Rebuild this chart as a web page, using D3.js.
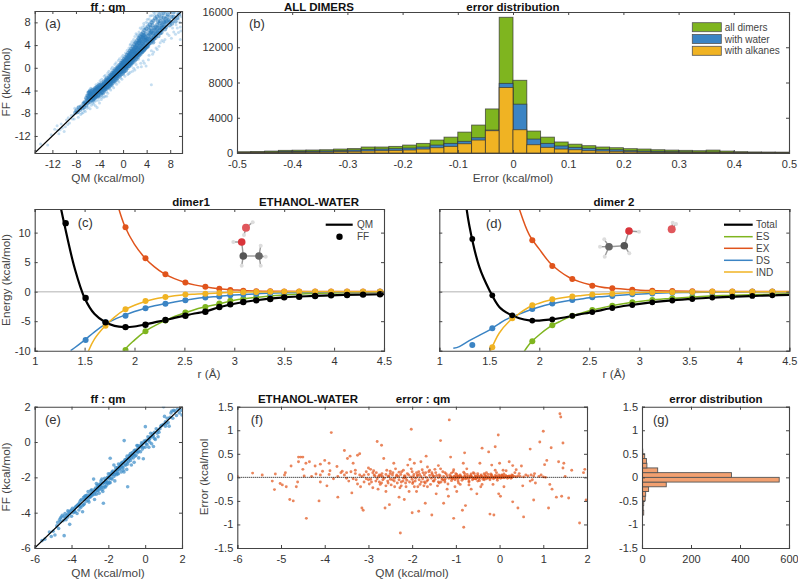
<!DOCTYPE html>
<html><head><meta charset="utf-8">
<script src="https://cdn.jsdelivr.net/npm/d3@7/dist/d3.min.js"></script>
<style>
html,body{margin:0;padding:0;background:#fff}
text{font-family:"Liberation Sans",Arial,sans-serif;fill:#333}
.tt{font-weight:700;font-size:11.5px;fill:#111}
.lab{font-size:11.8px;fill:#444}
.leg{font-size:10px;fill:#444}
.tick text{font-size:11px;fill:#333}
.pl{font-size:13px;fill:#333}
</style></head><body><svg id="c" width="798" height="580"></svg>
<script>
// ---------- panel (a) values ----------
const aCore=[[-8.1,-7.9],[-7.9,-7.5],[-7.7,-7.8],[-7.5,-7],[-7.3,-7.4],[-7.1,-6.8],[-6.9,-7.1],[-6.7,-6.3],[-6.6,-6.9],[-6.4,-6.1],[-6.3,-6.6],[-6.1,-5.6],[-6,-6.2],[-5.9,-5],[-5.8,-5.5],[-5.7,-6],[-5.6,-4.7],[-5.5,-5.2],[-5.4,-5.7],[-5.3,-4.6],[-5.2,-5],[-5.1,-5.4],[-5,-4.3],[-4.9,-4.8],[-4.8,-5.3],[-4.7,-4.1],[-4.6,-4.6],[-4.5,-5],[-4.4,-3.8],[-4.3,-4.3],[-4.2,-4.8],[-4.1,-3.6],[-4,-4.1],[-3.9,-4.5],[-3.8,-3.3],[-3.7,-3.8],[-3.6,-4.3],[-3.5,-3],[-3.4,-3.5],[-3.3,-4],[-3.2,-2.8],[-3.1,-3.2],[-3,-3.7],[-2.95,-2.4],[-2.85,-2.9],[-2.75,-3.4],[-2.65,-2.2],[-2.55,-2.6],[-2.45,-3.1],[-2.4,-1.9],[-2.3,-2.4],[-2.2,-2.8],[-2.15,-1.6],[-2.05,-2.1],[-1.95,-2.6],[-1.9,-1.3],[-1.8,-1.8],[-1.7,-2.3],[-1.65,-1],[-1.55,-1.5],[-1.45,-2],[-1.4,-.8],[-1.3,-1.2],[-1.2,-1.7],[-1.15,-.5],[-1.05,-.9],[-.95,-1.4],[-.9,-.2],[-.8,-.6],[-.7,-1.1],[-.65,.1],[-.55,-.3],[-.45,-.8],[-.4,.4],[-.3,0],[-.2,-.5],[-.15,.7],[-.05,.3],[.05,-.2],[.1,1],[.2,.6],[.3,.1],[.35,1.3],[.45,.9],[.55,.4],[.6,1.7],[.7,1.2],[.8,.7],[.85,2],[.95,1.5],[1.05,1],[1.1,2.3],[1.2,1.8],[1.3,1.3],[1.35,2.7],[1.45,2.1],[1.55,1.6],[1.6,3],[1.7,2.4],[1.8,1.9],[1.85,3.3],[1.95,2.7],[2.05,2.2],[2.1,3.7],[2.2,3.1],[2.3,2.5],[2.35,4],[2.45,3.4],[2.55,2.8],[2.6,4.4],[2.7,3.7],[2.8,3.1],[2.85,4.7],[2.95,4],[3.05,3.4],[3.1,5],[3.2,4.3],[3.3,3.7],[3.35,5.4],[3.45,4.6],[3.55,4],[3.6,5.7],[3.7,4.9],[3.8,4.3],[3.9,6],[4,5.2],[4.1,4.6],[4.2,3.8],[4.3,5.6],[4.4,6.6],[4.5,5],[4.6,6.1],[4.7,7],[4.8,5.4],[4.9,6.5],[5,7.5],[5.1,4.5],[5.2,6],[5.35,7],[5.5,5.3],[5.6,6.5],[5.8,7.6],[6,5.6],[6.2,7],[6.3,8.2],[6.5,6.2],[6.7,7.6],[6.9,8.8],[7.1,6.8],[7.4,8.2],[7.6,9.4],[7.9,7.5],[8.2,9],[8.5,9.8],[-3.85,-4],[-3.45,-3.7],[-3.05,-3.3],[-2.6,-2.9],[-2.2,-2.4],[-1.8,-2],[-1.4,-1.5],[-1,-1.1],[-.6,-.7],[-.2,-.2],[.2,.2],[.6,.8],[1,1.4],[1.4,1.9],[1.8,2.5],[2.2,2.9],[2.6,3.4],[3,3.9],[3.4,4.3],[3.8,4.8],[-2.1,-2.3],[-1.6,-1.7],[-1.1,-1.3],[-.7,-.4],[-.3,-.7],[.1,.5],[.5,.1],[.9,.9],[1.3,.9],[1.7,1.4],[2.1,2.6],[2.5,2.4],[2.9,3],[3.3,3.3],[3.7,3.6],[-4.5,-4.5],[-4.1,-4.2],[-3.6,-3.4],[-3.2,-3.5],[-2.7,-2.7],[-.1,.9],[.3,1.2],[.7,1.5],[1.1,2],[1.5,2.9],[1.9,3.1],[2.3,3.6],[2.7,4.4],[3.1,4.7],[3.5,5.2],
[-6.55,-6.1],[-6.25,-5.35],[-6.05,-4.9],[-5.85,-4.4],[-5.95,-5.75],[-5.75,-5.15],[-5.55,-4.15],[-5.45,-4.9],[-5.25,-4.05],[-5.15,-5.7],[-5.05,-3.85],[-4.95,-5.45],[-4.85,-4.2],[-4.75,-3.65],[-4.65,-5.1],[-4.55,-3.5],[-4.35,-3.35],[-4.25,-5.05],[-4.15,-3.15],[-3.95,-3.05],[-3.75,-4.7],[-3.65,-2.75],[-3.55,-3.1],[-3.35,-4.35],[-3.25,-2.45],[-3.15,-3.85],[-2.9,-2.05],[-2.8,-3.65],[-2.7,-1.85],[-2.5,-3.45],[-2.35,-1.5],[-2.25,-3.15],[-2.1,-1.2],[-2,-2.95],[-1.85,-.95],[-1.75,-2.65],[-1.6,-.6],[-1.5,-2.35],[-1.35,-.3],[-1.25,-2.1],[-1.1,-.05],[-1,-1.85],[-.85,.25],[-.75,-1.55],[-.6,.5],[-.5,-1.3],[-.35,.85],[-.25,-1.1],[-.1,1.2],[0,-.85],[.15,1.5],[.25,-.55],[.4,1.85],[.5,-.3],[.65,2.25],[.75,0],[.9,2.6],[1,.35],[1.15,2.95],[1.25,.6],[1.4,3.3],[1.5,.85],[1.65,3.7],[1.75,1.05],[1.9,4.1],[2,1.3],[2.15,4.4],[2.25,1.6],[2.4,4.8],[2.5,1.9],[2.65,5.2],[2.75,2.2],[2.9,5.5],[3,2.5],[3.15,5.9],[3.25,2.8],[3.4,6.2],[3.5,3.1],[3.65,6.6],[3.75,3.4],[3.95,6.9],[4.05,3.7],[4.25,7.3],[4.35,4.2],[4.55,7.6],[4.65,4.4],[4.85,8],[4.95,4.8],[5.15,8.3],[5.25,5.1],[5.45,8.7],[5.55,5.7],[5.75,9],[5.85,6.2],[5.95,8.2],[6.15,9.4],[6.25,6.6],[6.45,8.8],[6.6,7],[6.85,9.7],[7,8],[7.3,7.2],[7.5,9],[7.75,8.4],[8,8.1],[8.3,7.8],[8.6,9],[8.9,8.2],[9.2,8.8],[9.5,9.4],
[.15,-.6],[.45,.05],[.6,.35],[.95,.3],[1.2,.75],[1.45,1.1],[1.6,1.75],[1.9,1.65],[2.15,2],[2.4,2.15],[2.6,2.6],[2.85,2.55],[3.1,3],[3.3,2.9],[3.6,3.2],[3.85,3.55],[4.1,3.95],[4.4,4.4],[4.7,4.8],[5,5.2],[5.3,5.5],[5.6,5.9],[5.9,6.4],[6.25,6.1],[6.6,6.7],[6.95,7.3],[7.3,7.9],[2.05,3.55],[2.4,4.25],[2.75,4.85],[3.05,5.35],[3.4,5.75],[3.75,5.4],[3.95,4.95],[4.2,5.1],[4.5,5.85],[4.75,6.3],[5.05,6.1],[5.3,6.7],[5.6,7.2],[5.9,7.05],[6.2,7.8],[6.55,7.4],[6.85,8.1],[7.2,8.6],[-1.5,-.95],[-1.25,-.65],[-1,-.35],[-.75,-.05],[-.5,.2],[-.25,.45],[0,.7],[.25,.95],[.5,1.3],[.75,1.75],[1,2.2],[1.25,2.5],[1.5,2.4],[1.75,2.95],[-3.4,-3.15],[-3.15,-2.7],[-2.9,-2.55],[-2.65,-2.4],[-2.4,-2.15],[-2.15,-1.9],[-1.9,-1.55],[-1.65,-1.3],[-4.8,-4],[-4.55,-3.85],[-4.3,-3.7],[-4.05,-3.45],[-3.8,-3.55],[-5.7,-4.4],[-5.55,-4.55],[-5.35,-4.35],[-5.15,-4.7]];
const aFaint=[[-14,-13.4],[-12.8,-13.6],[-11.6,-10.8],[-11.2,-10.2],[-11.1,-11],[-10.9,-11.6],[-10.5,-9.9],[-10.3,-10.6],[-10,-11.2],[-9.6,-9.2],[-9.4,-10],[-9.1,-9.7],[-8.8,-8.4],[-8.6,-9],[-8.2,-7.1],[-8.4,-8.3],[-7.7,-7],[-7,-8],[-6.6,-7.5],[-6.1,-7.1],[-5.6,-7.2],[-5,-6.4],[-4.7,-6.7],[-4.4,-7],[-4,-6.2],[-3.7,-5.6],[-3.3,-5.2],[-2.8,-5],[-5.7,-3.9],[-5.4,-3.7],[-4.6,-3],[-3.9,-2.3],[-3.2,-1.5],[-2.6,-.9],[-2,-.2],[-1.4,.6],[-.8,1.3],[-.2,1.9],[.4,2.6],[1,3.5],[1.5,4.6],[2,5.5],[2.7,6.3],[3.3,7.2],[3.9,8],[4.4,8.6],[4.9,9.2],[5.4,9.6],[5.8,9.9],[6.5,9.9],[7.4,9.9],[8.6,8.6],[9.2,9.5],[9.6,8],[9.8,6.5],[9.2,7],[9.7,5],[8.9,5.9],[8.2,5.2],[7.5,6],[7.1,5],[6.6,4.8],[6.1,3.8],[5.6,3.5],[5.2,2.8],[4.8,3],[4.4,2.2],[4.8,-3],[3.9,.3],[3.4,1.2],[3,.8],[2.6,1.5],[2.2,.6],[1.8,-.1],[1.4,.3],[1,-1],[.6,-.6],[.1,-1.2],[-.4,-1.8],[-.9,-2.2],[-1.3,-2.6],[-1.8,-3.2],[-2.3,-3.6],[-2.8,-4.2],[-3.4,-4.6],[-4,-5.2],[-4.6,-5.8],[-5.2,-6.2],[-6.4,-7.7],[-7.2,-8.2],[-5.9,-4.2],[-5.7,-4],[-5.5,-3.6],[3.6,7.4],[2.4,5.8],[1.2,4],[5.7,8.6],[6.8,9.3],[7.7,8.4],[8.4,7],[8.9,8.8],
[-4.2,-2.7],[-3.6,-2],[-3,-1.3],[-2.4,-.6],[-1.8,.1],[-1.2,.9],[-.6,1.6],[0,2.2],[.7,3.1],[1.3,4.2],[1.8,5],[2.2,6],[2.9,7],[3.5,7.8],[4.1,8.5],[4.6,9.1],[5.2,9.8],[6.2,9.9],[7,9.9],[8,9.9],[8.8,9.8],[9.5,9.8],[9.9,9],[9.4,6.2],[8.6,6.3],[7.8,5.7],[6.9,4.6],[6.3,4.4],[5.8,3.2],[5,2.4],[4.3,1.4],[3.6,.8],[3.1,.2],[2.5,.1],[2,-.4],[1.6,-.6],[1.2,-.8],[.8,-1.2],[.3,-1.5],[-.2,-2],[-.7,-2.5],[-1.1,-2.9],[-1.6,-3.5],[-2.1,-3.9],[-2.6,-4.5],[-3.1,-5],[-3.6,-5.2],[-4.2,-5.7],[-4.9,-6],[-5.4,-6.6],[-5.9,-6.9],[-6.8,-7.9],[-7.6,-8.7],[-8.3,-9],[-9.3,-8.8],[-10.7,-10.9],[-9.8,-10.4],[-12.2,-11.8],[6.1,8.9],[6.6,9.4],[7.2,9.6],[7.9,9.7],[8.5,8.1],[9,7.6],[9.4,8.6],[9.7,7.2],[5.3,9.2],[4.2,7.9],[4.7,8.3],[3.2,6.8],[2.5,5.5],[1.9,4.6],[2.8,5.9],[3.7,6.9]];
// ---------- panel (b) histograms, bins of 0.025 from -0.5 to 0.5 ----------
const bAll=[140,170,220,300,320,340,370,450,500,680,680,750,900,1090,1470,1800,2370,3170,5000,15400,8250,2490,1800,1250,1000,830,680,600,490,450,370,330,300,260,330,220,150,120,110,100];
const bWater=[80,90,120,180,180,200,230,270,340,410,450,490,560,680,900,1090,1320,1730,2600,7900,5540,1580,1090,800,640,530,410,370,260,220,190,150,130,110,120,80,60,50,40,30];
const bAlkane=[50,60,70,90,100,110,120,160,190,230,260,300,340,450,600,750,1050,1470,2530,7430,2640,940,640,450,370,260,220,190,140,120,90,80,70,60,60,40,30,20,20,20];
const bNames=["all dimers","with water","with alkanes"];
// ---------- panel (c) ----------
const cDotR=[1.31,1.51,1.71,1.91,2.11,2.31,2.51,2.71,2.85,2.96,3.09,3.22,3.36,3.5,3.65,3.81,3.97,4.13,4.29,4.46];
const cDotTotal=[11.6,-1.07,-5.2,-6,-5.6,-4.8,-4.07,-3.4,-2.6,-2.15,-1.75,-1.47,-1.24,-.96,-.85,-.73,-.62,-.56,-.5,-.45];
const cDotES=[null,null,null,-9.9,-6.7,-4.9,-3.55,-2.6,-2,-1.55,-1.2,-.95,-.75,-.55,-.4,-.3,-.22,-.17,-.13,-.1];
const cDotEX=[null,null,null,10.9,5.65,2.94,1.53,.85,.5,.3,.17,.06,.05,.04,.03,.03,.02,.02,.01,.01];
const cDotDS=[null,-8.2,-5.2,-4.07,-2.82,-2.03,-1.47,-1,-.8,-.6,-.5,-.35,-.25,-.2,-.13,-.1,-.08,-.06,-.04,-.03];
const cDotIND=[null,null,-5.76,-3,-1.6,-.9,-.5,-.34,-.22,-.12,-.08,-.05,-.03,-.02,-.02,-.01,-.01,-.01,0,0];
const cR=[1.2,1.25,1.3,1.36,1.4,1.5,1.54,1.6,1.7,1.8,1.9,2,2.1,2.2,2.3,2.4,2.5,2.6,2.7,2.85,3,3.2,3.5,3.8,4.1,4.5];
const cTotal=[20,15.2,11.2,null,4,-1.07,null,-3.8,-5.1,-5.8,-6,-5.9,-5.6,-5.2,-4.85,-4.45,-4.07,-3.7,-3.4,-2.65,-2.05,-1.5,-.96,-.73,-.56,-.44];
const cES=[null,null,null,null,null,null,null,null,null,-13,-9.9,-8.2,-6.8,-5.8,-4.95,-4.2,-3.6,-3.05,-2.62,-2.05,-1.45,-.98,-.55,-.3,-.18,-.1];
const cEX=[null,null,null,null,null,null,null,null,23,16.5,11.2,8,5.8,4.2,3,2.2,1.6,1.15,.85,.5,.3,.1,.05,.03,.02,.01];
const cDS=[null,null,null,-10,-9.5,-8.2,null,-6.8,-5.6,-4.7,-4,-3.35,-2.85,-2.4,-2.05,-1.75,-1.47,-1.2,-1,-.8,-.58,-.38,-.2,-.1,-.06,-.03];
const cIND=[null,null,null,null,null,-12,-10,-8,-5.9,-4.3,-3.1,-2.3,-1.7,-1.25,-.95,-.7,-.52,-.42,-.34,-.22,-.12,-.07,-.03,-.02,-.01,0];
// ---------- panel (d) ----------
const dDotR=[1.33,1.53,1.73,1.93,2.13,2.33,2.53,2.73,2.93,3.13,3.33,3.53,3.73,3.93,4.13,4.33];
const dDotTotal=[8.93,-.62,-4,-4.9,-4.7,-4.1,-3.45,-2.77,-2.26,-1.8,-1.5,-1.24,-1,-.85,-.73,-.62];
const dDotES=[null,null,null,-8.4,-5.7,-4.1,-3.1,-2.37,-1.8,-1.4,-1.13,-.9,-.73,-.62,-.5,-.43];
const dDotEX=[null,null,null,8.7,4.35,2.15,1,.56,.34,.17,.1,.06,.04,.03,.02,.01];
const dDotDS=[-9.04,-6.2,-4.2,-2.95,-2,-1.4,-.95,-.73,-.45,-.3,-.2,-.13,-.08,-.05,-.03,-.02];
const dDotIND=[null,-9.4,-4.5,-2.3,-1.3,-.8,-.5,-.34,-.2,-.12,-.08,-.05,-.03,-.02,-.01,-.01];
const dR=[1.14,1.2,1.25,1.3,1.4,1.5,1.6,1.7,1.8,1.9,2,2.1,2.2,2.3,2.4,2.5,2.6,2.7,2.9,3.1,3.3,3.5,3.7,3.9,4.1,4.33,4.5];
const dTotal=[null,null,17,11.2,4.2,.3,-2.6,-3.8,-4.5,-4.85,-4.9,-4.75,-4.5,-4.2,-3.85,-3.55,-3.2,-2.85,-2.3,-1.85,-1.52,-1.26,-1.03,-.87,-.75,-.62,-.55];
const dES=[null,null,null,null,null,null,null,null,-11.5,-8.9,-7.3,-6,-5.1,-4.3,-3.75,-3.25,-2.85,-2.45,-1.87,-1.45,-1.17,-.93,-.75,-.63,-.52,-.43,-.38];
const dEX=[null,null,null,null,null,null,null,20,14,9.6,7.2,5,3.5,2.4,1.7,1.2,.85,.6,.36,.18,.1,.06,.04,.03,.02,.01,.01];
const dDS=[-9.6,-9.3,null,-8.3,-7.4,-6.5,-5.4,-4.45,-3.8,-3.15,-2.6,-2.15,-1.8,-1.5,-1.28,-1.05,-.88,-.75,-.48,-.32,-.2,-.13,-.08,-.05,-.03,-.02,-.01];
const dIND=[null,null,null,null,null,-10.5,-7,-5,-3.7,-2.6,-1.95,-1.45,-1.1,-.85,-.68,-.52,-.43,-.35,-.2,-.12,-.08,-.05,-.03,-.02,-.01,-.01,0];
const compNames=["Total","ES","EX","DS","IND"];
// ---------- panel (e) ----------
const ePts=[[-6,-6],[-5.6,-5.58],[-5.45,-5.5],[-5.2,-5.1],[-5.1,-5.35],[-5,-5.05],[-4.9,-5.26],[-4.8,-4.75],[-4.75,-4.55],[-4.7,-4.9],[-4.65,-4.4],[-4.6,-4.3],[-4.55,-4.25],[-4.5,-4.15],[-4.45,-4.45],[-4.4,-5.3],[-4.4,-4.2],[-4.35,-4.05],[-4.3,-4.4],[-4.25,-4.15],[-4.2,-4.25],[-4.15,-3.95],[-4.1,-4.66],[-4.1,-4.05],[-4.05,-3.9],[-4,-4.2],[-3.95,-3.75],[-3.9,-4],[-3.85,-3.8],[-3.8,-3.95],[-3.75,-3.65],[-3.7,-4.05],[-3.65,-3.55],[-3.6,-3.85],[-3.55,-3.4],[-3.5,-3.7],[-3.45,-3.25],[-3.4,-3.6],[-3.4,-3.95],[-3.35,-3.15],[-3.3,-3.5],[-3.25,-3.05],[-3.2,-3.35],[-3.15,-3],[-3.1,-3.3],[-3.1,-2.8],[-3.05,-3.4],[-3,-2.95],[-2.95,-3.1],[-2.9,-2.7],[-2.85,-3],[-2.8,-2.1],[-2.8,-2.85],[-2.75,-3.25],[-2.7,-2.6],[-2.65,-2.95],[-2.6,-2.45],[-2.55,-2.75],[-2.5,-2.9],[-2.5,-2.4],[-2.45,-2.65],[-2.4,-2.2],[-2.35,-2.55],[-2.3,-2.8],[-2.27,-3.47],[-2.25,-2.3],[-2.2,-2.5],[-2.15,-2.15],[-2.1,-2.45],[-2.05,-2],[-2,-2.35],[-2,-1.8],[-1.95,-2.1],[-1.9,-.92],[-1.9,-2.3],[-1.85,-1.85],[-1.8,-2.1],[-1.75,-1.65],[-1.7,-1.95],[-1.7,-1.3],[-1.65,-2.2],[-1.6,-1.6],[-1.55,-1.85],[-1.5,-1.45],[-1.45,-1.25],[-1.45,-1.8],[-1.4,-1.55],[-1.35,-1.3],[-1.3,-1.7],[-1.25,-1.15],[-1.2,-1.45],[-1.15,-1.7],[-1.14,.08],[-1.1,-1],[-1.05,-1.3],[-1,-1.55],[-.98,-.8],[-.95,-2.53],[-.9,-1.1],[-.85,-.75],[-.8,-1.05],[-.75,-1.3],[-.7,-.6],[-.65,-.9],[-.6,-1.15],[-.55,-.45],[-.5,-.75],[-.45,-.2],[-.4,-.6],[-.35,-.9],[-.3,-.3],[-.25,-.55],[-.2,-.05],[-.15,-.4],[-.1,-.95],[-.05,.05],[0,-.3],[.01,.87],[.05,.1],[.1,-.15],[.15,.3],[.2,-.3],[.25,.2],[.3,.5],[.35,-.1],[.4,.45],[.45,-.25],[.5,.55],[.55,.15],[.6,.75],[.7,.3],[.8,.75],[.9,.95],[1,2],[1.05,1.45],[1.1,.9],[1.15,1.05],[1.2,1.35],[1.25,1.1],[1.3,.9],[1.35,1.4],[1.4,1.65],[1.45,1.75],[1.5,1.35],[1.55,1.8],[1.6,1.75],[1.7,1.5],[1.75,1.85],[1.85,1.65],[1.95,1.8],[2,1.53],[-3.6,-3.5],[-3.2,-3.15],[-2.9,-3],[-2.6,-2.6],[-2.4,-2.5],[-2.15,-2.3],[-2,-2],[-1.8,-1.85],[-1.6,-1.75],[-1.4,-1.4],[-1.2,-1.2],[-1,-1.15],[-.8,-.8],[-.6,-.65],[-.4,-.35],[-.2,-.25],[0,0],[.2,.15],[-4.2,-4.1],[-3.8,-3.7],[-3,-3.1],[-2.7,-2.8],[-2.3,-2.35],[-1.75,-1.75],[-1.3,-1.35],[-1.5,-1.65],[-.9,-.95],[-.7,-.75],[-3.3,-3.25],[-2.45,-2.45],[-2.2,-2.05],[-1.95,-1.95],[-.5,-.5],[.4,.3],[.7,.65],[-2.65,-2.35],[-2.35,-2.1],
[-4.6,-4.5],[-4.35,-4.3],[-4.2,-3.9],[-4,-3.85],[-3.85,-3.95],[-3.7,-3.6],[-3.55,-3.65],[-3.5,-3.3],[-3.35,-3.55],[-3.3,-3.1],[-3.2,-3.05],[-3.05,-3.15],[-2.95,-2.75],[-2.9,-2.9],[-2.75,-2.7],[-2.75,-2.95],[-2.6,-2.75],[-2.55,-2.5],[-2.5,-2.6],[-2.4,-2.35],[-2.35,-2.7],[-2.25,-2.6],[-2.2,-2.25],[-2.15,-2.55],[-2.1,-2.2],[-2.05,-2.3],[-1.95,-2.3],[-1.9,-1.8],[-1.85,-2.05],[-1.8,-1.7],[-1.7,-1.75],[-1.65,-1.85],[-1.6,-1.45],[-1.55,-1.6],[-1.5,-1.8],[-1.45,-1.5],[-1.35,-1.5],[-1.3,-1.2],[-1.25,-1.4],[-1.2,-1.6],[-1.15,-1.1],[-1.1,-1.3],[-1.05,-1],[-1,-.95],[-.95,-1.25],[-.85,-.95],[-.8,-.65],[-.75,-.9],[-.65,-.7],[-.6,-.5],[-.55,-.8],[-.45,-.55],[-.4,-.2],[-.35,-.5],[-.25,-.2],[-.15,-.1],[-.1,-.3],[.05,-.1],[.15,.1],[.25,0],[.3,.3],[.45,.35],[.5,.2],[.65,.5],[.75,.55],[.85,.9],[1,1],[1.1,1.15]];
// ---------- panel (f) ----------
const fPts=[[-6,.02],[-5.65,.09],[-5.43,.05],[-5.2,-.08],[-5.13,.07],[-5.15,-.26],[-5.02,-.13],[-4.97,-.16],[-4.9,.1],[-4.92,.05],[-4.88,-.2],[-4.8,-.47],[-4.72,-.5],[-4.77,.24],[-4.65,-.2],[-4.62,-.1],[-4.6,.33],[-4.55,.43],[-4.6,.43],[-4.5,.43],[-4.42,-.87],[-4.35,.33],[-4.43,.3],[-4.5,.17],[-4.47,.03],[-4.3,.02],[-4.2,.07],[-4.22,.24],[-4.13,-.5],[-4.1,-.1],[-4.1,.28],[-4.05,.13],[-4,.36],[-3.95,-.18],[-3.9,.3],[-3.88,.14],[-3.85,.95],[-3.8,-.03],[-3.72,.23],[-3.7,-.42],[-3.63,.1],[-3.55,.57],[-3.5,.1],[-3.48,.4],[-3.45,-.08],[-3.42,.45],[-3.38,-.33],[-3.35,.3],[-3.3,.15],[-3.28,-.05],[-3.25,.47],[-3.2,.5],[-3.18,-.2],[-3.15,-.65],[-3.12,-.7],[-3.1,.05],[-3.05,.12],[-3,.2],[-2.98,-.14],[-2.95,.17],[-2.9,-.22],[-2.87,.05],[-2.82,.1],[-2.8,.76],[-2.78,-.25],[-2.75,-.1],[-2.7,.68],[-2.68,.02],[-2.65,.4],[-2.62,-.65],[-2.6,-.3],[-2.55,-.12],[-2.52,-.58],[-2.5,.08],[-2.45,-.05],[-2.42,.3],[-2.4,-.2],[-2.35,.05],[-2.3,-.42],[-2.27,-1.18],[-2.25,-.1],[-2.2,.15],[-2.18,-.47],[-2.15,-.02],[-2.1,.26],[-2.07,-.3],[-2.05,.38],[-2.02,1.02],[-2,-.75],[-1.98,-.1],[-1.95,.3],[-1.9,-.3],[-1.88,.05],[-1.85,-.72],[-1.82,-.15],[-1.8,.33],[-1.75,.1],[-1.72,-.1],[-1.7,-.55],[-1.68,.45],[-1.65,-.2],[-1.6,.15],[-1.55,-.8],[-1.52,-.08],[-1.5,.02],[-1.48,.17],[-1.45,-.35],[-1.4,.25],[-1.38,-.12],[-1.35,.78],[-1.3,-.05],[-1.28,-.55],[-1.25,.1],[-1.2,-.25],[-1.17,-.4],[-1.15,1.22],[-1.12,.43],[-1.1,-.02],[-1.05,-.87],[-1.02,-.2],[-1,.08],[-.98,-.3],[-.95,.02],[-.9,-.15],[-.85,-.7],[-.83,.3],[-.82,-1.06],[-.8,.52],[-.78,-.6],[-.75,.18],[-.7,-.1],[-.65,-.25],[-.6,.1],[-.55,-.03],[-.52,-.35],[-.5,.08],[-.45,.3],[-.43,-.2],[-.4,.62],[-.35,-.05],[-.3,.1],[-.25,.54],[-.22,-.78],[-.18,.26],[-.15,-.15],[-.13,-.8],[-.1,.65],[-.07,.1],[-.03,.9],[-.02,-.35],[0,.3],[.02,-.4],[.05,.05],[.08,.15],[.1,-.2],[.15,.14],[.2,.02],[.22,.33],[.28,.05],[.3,.25],[.3,-.52],[.35,.1],[.38,.16],[.42,-.65],[.45,.08],[.5,.24],[.53,-.18],[.55,-.84],[.6,.05],[.7,.6],[.72,.05],[.75,-.05],[.78,-.48],[.8,.08],[.9,.02],[.92,.75],[.95,.05],[1,.98],[1.03,.27],[1.05,0],[1.08,.36],[1.12,-.65],[1.15,-.15],[1.18,.63],[1.2,-.25],[1.3,-.42],[1.35,.33],[1.38,1.35],[1.4,1.28],[1.42,-.4],[1.45,.73],[1.45,.2],[1.47,.3],[1.5,.02],[1.58,-.44],[1.65,.15],[1.83,-.97],[1.92,.1],[1.95,.17],[1.98,-.48],
[-2.85,.03],[-2.8,-.03],[-2.72,.04],[-2.67,-.05],[-2.6,.06],[-2.55,.02],[-2.5,-.04],[-2.45,.05],[-2.4,-.02],[-2.36,.03],[-2.3,-.05],[-2.26,.06],[-2.2,-.02],[-2.16,.03],[-2.12,-.06],[-2.08,.05],[-2.03,.01],[-2,-.04],[-1.96,.06],[-1.92,-.02],[-1.88,.03],[-1.84,-.05],[-1.8,.02],[-1.76,-.03],[-1.72,.05],[-1.68,0],[-1.64,-.05],[-1.6,.04],[-1.56,-.02],[-1.52,.03],[-1.48,-.04],[-1.44,.04],[-1.4,-.01],[-1.36,.03],[-1.32,-.03],[-1.28,.02],[-1.24,-.03],[-1.2,.03],[-1.16,-.02],[-1.12,.02],[-1.08,-.03],[-1.04,.02],[-1,-.02],[-.96,.03],[-.92,-.01],[-.88,.02],[-.84,-.02],[-.8,.02],[-.76,-.02],[-.72,.02],[-.68,-.01],[-.64,.02],[-.6,-.02],[-.56,.02],[-.52,-.01],[-.48,.02],[-.44,-.01],[-.4,.02],[-.36,-.01],[-.32,.02],[-.28,-.01],[-.24,.01],[-.2,-.01],[-.16,.01],[-.12,0],[-.08,.01],[-.04,-.01],[0,.01],[.04,0],[.08,.01],[.12,0],[.16,.01],[.2,0],[.24,.01],[.28,0],
[-2.9,.1],[-2.7,-.12],[-2.5,.13],[-2.3,.11],[-2.15,-.12],[-2,.12],[-1.85,.12],[-1.7,-.12],[-1.55,.1],[-1.4,-.1],[-1.25,-.1],[-1.1,.09],[-.95,-.08],[-.8,.08],[-.65,.07],[-.5,-.08],[-.35,.08],[-.2,.07],[-.05,-.06],[.1,.07],[-2.6,-.18],[-2.25,-.18],[-1.95,-.2],[-1.65,.22],[-1.35,.18],[-1.05,.16],[-.7,-.16],[-.4,-.15],[-.1,.15],[-3.2,.05],[-3,-.05],[-3.35,-.03],[-3.55,.05],[-3.7,.02],[-3.9,.06],[-4.1,.05],[-3.4,.12],[-3.1,-.1],[-2.95,-.04],[-2.75,.05],
[-3.6,.13],[-3.5,-.02],[-3.3,.08],[-3.25,-.14],[-3.15,.02],[-3.05,-.03],[-3,.06],[-2.93,-.1],[-2.88,.14],[-2.83,-.08],[-2.77,.02],[-2.73,-.15],[-2.69,.08],[-2.64,-.02],[-2.58,.15],[-2.56,-.08],[-2.53,.03],[-2.48,-.16],[-2.44,.1],[-2.41,-.08],[-2.38,.18],[-2.34,-.12],[-2.31,.02],[-2.28,-.22],[-2.24,.12],[-2.21,-.08],[-2.18,.03],[-2.14,-.2],[-2.11,.08],[-2.06,-.1],[-2.02,.18],[-1.99,-.13],[-1.97,.02],[-1.93,-.08],[-1.9,.1],[-1.87,-.2],[-1.83,.06],[-1.79,-.1],[-1.77,.16],[-1.73,-.18],[-1.69,.1],[-1.66,-.08],[-1.62,.12],[-1.58,-.15],[-1.54,.06],[-1.5,-.08],[-1.46,.1],[-1.42,-.18],[-1.38,.05],[-1.34,-.1],[-1.3,.12],[-1.26,-.06],[-1.22,.07],[-1.18,-.14],[-1.14,.05],[-1.1,-.07],[-1.06,.12],[-1.02,-.05],[-.98,.06],[-.94,-.12],[-.9,.05],[-.86,-.06],[-.82,.11],[-.78,-.03],[-.74,.06],[-.7,-.08],[-.66,.03],[-.62,-.05],[-.58,.08],[-.54,-.03],[-.5,.04],[-.46,-.07],[-.42,.05],[-.38,-.04],[-.34,.05],[-.3,-.03],[-.26,.06],[-.22,-.05],[-.18,.05],[-.14,-.03],[-.1,.04],[-.06,-.02],[-.02,.05],[.02,-.02],[.06,.04],[.1,-.01],[.14,.04],[.18,-.02],[.22,.03],[.26,-.02],[.3,.04],[.34,.02],[.38,.01],[.42,.03],[.47,.02],[.55,.01],[.65,.03],[.7,-.08],[.78,.03],[.82,-.12],[1,.01],
[-1.1,.01],[-1.06,-.02],[-1.02,.03],[-.99,0],[-.95,-.03],[-.91,.03],[-.87,0],[-.83,-.03],[-.79,.03],[-.75,0],[-.71,-.03],[-.67,.03],[-.63,0],[-.59,-.03],[-.55,.03],[-.51,0],[-.47,-.03],[-.43,.03],[-.39,0],[-.35,-.02],[-.31,.03],[-.27,0],[-.23,-.02],[-.19,.03],[-.15,0],[-.11,-.01],[-.07,.03],[-.03,0],[.01,.03],[.05,-.01],[.09,.02],[.13,.01],[.17,.02],[.21,.01],[.25,.02],[.29,.01]];
const fZero=[-6,2];
// ---------- panel (g) histogram, bins of 0.1 ----------
const gEdges=[-1,-.9,-.8,-.7,-.6,-.5,-.4,-.3,-.2,-.1,0,.1,.2,.3,.4,.5,.6,.7,.8];
const gCounts=[1,2,7,5,7,13,15,27,99,560,365,64,20,18,11,3,1,1];
// ---------- tick labels ----------
const aTicks=[-12,-8,-4,0,4,8], bxTicks=[-.5,-.4,-.3,-.2,-.1,0,.1,.2,.3,.4,.5], byTicks=[0,4000,8000,12000,16000];
const rTicks=[1,1.5,2,2.5,3,3.5,4,4.5], eyTicks=[-10,-5,0,5,10], eTicks=[-6,-4,-2,0,2];
const fxTicks=[-6,-5,-4,-3,-2,-1,0,1,2], fyTicks=[-1.5,-1,-.5,0,.5,1,1.5], gxTicks=[0,200,400,600];

const GREEN="#7fb51f",ORANGE="#e0541c",BLUE="#3b84c4",YEL="#f0b323";
const svg=d3.select("#c");
let cid=0;
function panel(box,xd,yd,xt,yt,opt={}){
  const x=d3.scaleLinear(xd,[box[0],box[1]]), y=d3.scaleLinear(yd,[box[3],box[2]]);
  const g=svg.append("g"), id="clip"+(cid++);
  svg.append("clipPath").attr("id",id).append("rect").attr("x",box[0]).attr("y",box[2]).attr("width",box[1]-box[0]).attr("height",box[3]-box[2]);
  const plot=g.append("g").attr("clip-path",`url(#${id})`);
  return {x,y,g,plot,finish(){
    const fmt=d=>String(d);
    const mk=(ax,tr,vals,lab,pad)=>{const a=g.append("g").attr("transform",tr).call(ax.tickValues(vals).tickFormat(lab?fmt:"").tickSizeOuter(0).tickSize(-3).tickPadding(pad));
      a.selectAll(".domain").attr("stroke","#444").attr("stroke-width",1.1);
      a.selectAll(".tick line").attr("stroke","#444").attr("stroke-width",1);
      a.attr("font-family",null).attr("font-size",null);};
    mk(d3.axisBottom(x),`translate(0,${box[3]})`,xt,true,7);
    mk(d3.axisTop(x),`translate(0,${box[2]})`,xt,false,4);
    mk(d3.axisLeft(y),`translate(${box[0]},0)`,yt,!opt.noY,4);
    mk(d3.axisRight(y),`translate(${box[1]},0)`,yt,false,4);
  }};
}
function txt(x,y,s,cls,anchor="middle",rot){const t=svg.append("text").attr("x",x).attr("y",y).attr("class",cls).attr("text-anchor",anchor).text(s);
  if(rot)t.attr("transform",`rotate(-90 ${x} ${y})`);return t;}
function points(p,pts,r,col,op){p.plot.append("g").selectAll("circle").data(pts).join("circle").attr("cx",d=>p.x(d[0])).attr("cy",d=>p.y(d[1])).attr("r",r).attr("fill",col).attr("opacity",op);}
function diag(p,d){p.plot.append("line").attr("x1",p.x(d[0])).attr("y1",p.y(d[0])).attr("x2",p.x(d[1])).attr("y2",p.y(d[1])).attr("stroke","#000").attr("stroke-width",1.2);}

// (a)
{const p=panel([34.7,182,11,153],[-15,10],[-15,10],aTicks,aTicks);
 points(p,aFaint,1.5,"#5aa0d6",.35);points(p,aCore,2.2,"#2a7ab9",.55);diag(p,[-15,10]);p.finish();
 txt(108,10.5,"ff : qm","tt");txt(108,182,"QM (kcal/mol)","lab");txt(10,82,"FF (kcal/mol)","lab","middle",true);txt(45,28,"(a)","pl","start");}
// (b)
{const p=panel([237,789,12,153],[-.5,.5],[0,16000],bxTicks,byTicks);
 const w=.025;
 [[bAll,GREEN],[bWater,BLUE],[bAlkane,YEL]].forEach(([v,c])=>{
  p.plot.append("g").selectAll("rect").data(v).join("rect")
   .attr("x",(d,i)=>p.x(-.5+i*w)).attr("width",p.x(w)-p.x(0)).attr("y",d=>p.y(d)).attr("height",d=>p.y(0)-p.y(d))
   .attr("fill",c).attr("stroke","#333").attr("stroke-opacity",.75).attr("stroke-width",.9);});
 p.finish();
 txt(319,10.5,"ALL DIMERS","tt");txt(513,10.5,"error distribution","tt");txt(513,182,"Error (kcal/mol)","lab");txt(249,28,"(b)","pl","start");
 const lg=[GREEN,BLUE,YEL];
 [22.7,34.5,46.3].forEach((yy,i)=>{svg.append("rect").attr("x",692.3).attr("y",yy).attr("width",29).attr("height",9).attr("fill",lg[i]).attr("stroke","#555").attr("stroke-width",.8);
  txt(724.7,yy+8,bNames[i],"leg","start");});}
// (c)(d)
function energy(box,R,curves,dotR,dots,tsize){
 const p=panel(box,[1,4.5],[-10,14],rTicks,eyTicks,{noY:box[0]>100});
 p.plot.append("line").attr("x1",box[0]).attr("x2",box[1]).attr("y1",p.y(0)).attr("y2",p.y(0)).attr("stroke","#ccc").attr("stroke-width",1.5);
 const line=vals=>d3.line().x(i=>p.x(R[i])).y(i=>p.y(vals[i])).curve(d3.curveCatmullRom.alpha(.5))(d3.range(R.length).filter(i=>vals[i]!==null));
 const cols=[GREEN,ORANGE,BLUE,YEL,"#000"];
 curves.forEach((v,k)=>p.plot.append("path").attr("d",line(v)).attr("fill","none").attr("stroke",cols[k]).attr("stroke-width",k==4?2.2:1.5));
 dots.forEach((v,k)=>p.plot.append("g").selectAll("circle").data(d3.range(dotR.length).filter(i=>v[i]!==null)).join("circle")
   .attr("cx",i=>p.x(dotR[i])).attr("cy",i=>p.y(v[i])).attr("r",k==4?tsize:3).attr("fill",cols[k]));
 p.finish();return p;}
energy([34.7,384,209,350.7],cR,[cES,cEX,cDS,cIND,cTotal],cDotR,[cDotES,cDotEX,cDotDS,cDotIND,cDotTotal],3.2);
energy([439.3,789.3,209,350.7],dR,[dES,dEX,dDS,dIND,dTotal],dDotR,[dDotES,dDotEX,dDotDS,dDotIND,dDotTotal],2.9);
txt(191,206,"dimer1","tt");txt(309,206,"ETHANOL-WATER","tt");txt(614,206,"dimer 2","tt");
txt(209,378,"r (Å)","lab");txt(614,378,"r (Å)","lab");txt(10,280,"Energy (kcal/mol)","lab","middle",true);
txt(77.7,227,"(c)","pl","start");txt(486,228,"(d)","pl","start");
// legends
svg.append("line").attr("x1",325.7).attr("x2",352.7).attr("y1",224.7).attr("y2",224.7).attr("stroke","#000").attr("stroke-width",2.2);
svg.append("circle").attr("cx",339.5).attr("cy",236.7).attr("r",3.2).attr("fill","#000");
txt(357,228.4,"QM","leg","start");txt(357,240.4,"FF","leg","start");
[224.7,236.7,248.3,260.3,272].forEach((yy,i)=>{const c=["#000",GREEN,ORANGE,BLUE,YEL][i];
 svg.append("line").attr("x1",724).attr("x2",752.7).attr("y1",yy).attr("y2",yy).attr("stroke",c).attr("stroke-width",i?1.5:2.2);
 txt(756,yy+3.7,compNames[i],"leg","start");});
// molecules
function bond(a,b){svg.append("line").attr("x1",a[0]).attr("y1",a[1]).attr("x2",b[0]).attr("y2",b[1]).attr("stroke","#999").attr("stroke-width",1.4);}
function atom(a,r,c){svg.append("circle").attr("cx",a[0]).attr("cy",a[1]).attr("r",r).attr("fill",c);}
function molecule(C1,C2,O,Ho,Hs,Ow,Hw){
 [[C1,C2],[C2,O],[O,Ho]].forEach(b=>bond(...b));
 Hs.forEach((h,i)=>bond(i<3?C1:C2,h));Hw.forEach(h=>bond(Ow,h));
 Hs.concat([Ho]).forEach(h=>atom(h,2,"#ddd"));
 atom(C1,3.8,"#666");atom(C2,3.8,"#555");atom(O,3.8,"#d9343a");
 Hw.forEach(h=>atom(h,2,"#ddd"));atom(Ow,4,"#e0575c");}
molecule([259,256],[243.3,256],[241.7,242],[233.3,242],[[260.7,245.7],[260.7,265.7],[265.7,256.7],[241.7,265.7]],[246,227.7],[[252.7,222.3],[244,235]]);
molecule([609,246.7],[624.3,245.7],[629,231],[639,231.7],[[604.3,239.3],[604.7,256.7],[600,246.7],[629.3,253.3]],[671.7,229.3],[[672.7,222.7],[676,224]]);
// (e)
{const p=panel([34.7,182,406.7,548],[-6,2],[-6,2],eTicks,eTicks);
 points(p,ePts,1.8,"#3a8cc8",.7);diag(p,[-6,2]);p.finish();
 txt(108,403,"ff : qm","tt");txt(108,577,"QM (kcal/mol)","lab");txt(10,477,"FF (kcal/mol)","lab","middle",true);txt(45,424,"(e)","pl","start");}
// (f)
{const p=panel([237.3,587,406.7,548],[-6,2],[-1.5,1.5],fxTicks,fyTicks);
 points(p,fPts,1.45,"#e2571e",.72);
 p.plot.append("line").attr("x1",p.x(fZero[0])).attr("x2",p.x(fZero[1])).attr("y1",p.y(0)).attr("y2",p.y(0)).attr("stroke","#000").attr("stroke-width",1).attr("stroke-dasharray","1 1");
 p.finish();
 txt(308,403,"ETHANOL-WATER","tt");txt(423,403,"error : qm","tt");txt(412,577,"QM (kcal/mol)","lab");txt(208,477,"Error (kcal/mol","lab","middle",true);txt(250.7,424,"(f)","pl","start");}
// (g)
{const p=panel([642,789,406.7,548],[0,600],[-1.5,1.5],gxTicks,fyTicks);
 p.plot.append("g").selectAll("rect").data(gCounts).join("rect")
  .attr("x",p.x(0)).attr("y",(d,i)=>p.y(gEdges[i+1])).attr("width",d=>p.x(d)-p.x(0)).attr("height",(d,i)=>p.y(gEdges[i])-p.y(gEdges[i+1]))
  .attr("fill","#f2a070").attr("stroke","#555").attr("stroke-width",.9);
 p.finish();
 txt(716,403,"error distribution","tt");txt(653,424,"(g)","pl","start");}
</script></body></html>
